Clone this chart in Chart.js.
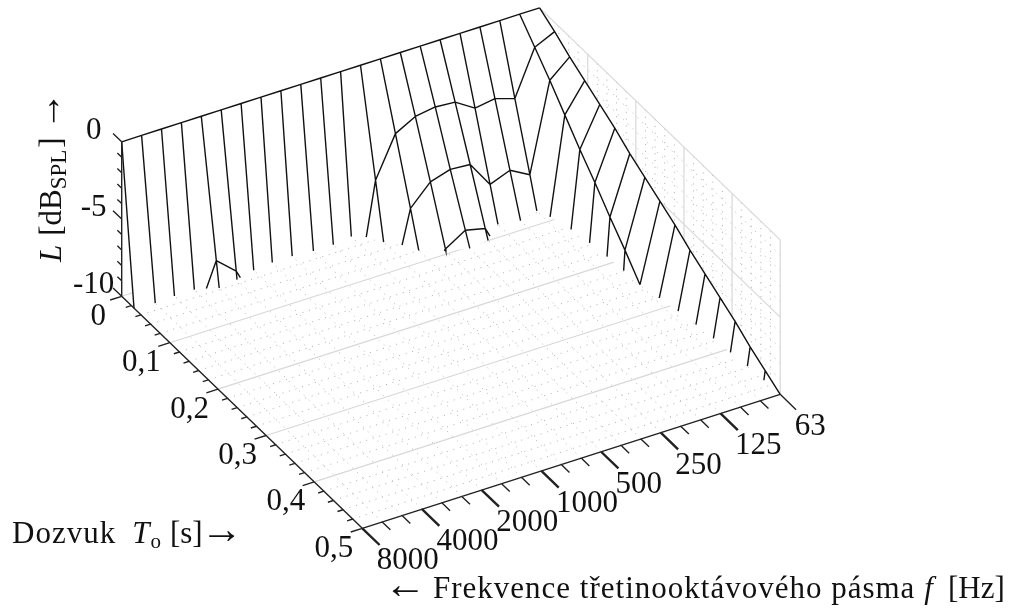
<!DOCTYPE html>
<html>
<head>
<meta charset="utf-8">
<script src="https://cdn.jsdelivr.net/npm/chart.js@4/dist/chart.umd.min.js"></script>
<style>
  body { margin: 0; background: #fff; }
</style>
</head>
<body>
<canvas id="graf" width="1015" height="608"></canvas>
<script>
// tretinooktavova pasma, zleva doprava podle osy
const pasma = [8000, 6300, 5000, 4000, 3150, 2500, 2000, 1600, 1250, 1000, 800, 630, 500, 400, 315, 250, 200, 160, 125, 100, 80, 63];
const dozvuk = [0, 0.03125, 0.0625, 0.09375, 0.125, 0.15625, 0.1875, 0.21875, 0.25, 0.28125, 0.3125, 0.34375, 0.375, 0.40625, 0.4375, 0.46875, 0.5];

// odectene hladiny v dB, kazdy radek konci prvni hodnotou pod -10
const L8000 = [0, -12.2];
const L6300 = [0, -11.0];
const L5000 = [0, -11.6];
const L4000 = [0, -11.6];
const L3150 = [0, -8.4, -16.8];
const L2500 = [0, -9.5, -19];
const L2000 = [0, -11.9];
const L1600 = [0, -13.3];
const L1250 = [0, -13.3];
const L1000 = [0, -11.9];
const L800 = [0, -11.9];
const L630 = [0, -14];
const L500 = [0, -6.5, -13];
const L400 = [0, -3.9, -7.8, -11.8];
const L315 = [0, -3.2, -6.5, -9.9, -13.2];
const L250 = [0, -3.0, -6.1, -9.1, -12.1];
const L200 = [0, -3.1, -6.2, -9.4, -12.5];
const L160 = [0, -3.9, -7.9, -11.9];
const L125 = [0, -3.7, -7.4, -11.1];
const L100 = [0, -4.1, -8.1, -12.2, -16.3, -20.4, -24.5, -28.6, -32.6];
const L80 = [0, -1.2, -2.4, -3.7, -5, -6.2, -7.5, -8.7, -10, -11.2, -12.5, -13.7, -15, -16.2, -17.5, -18.7, -20];
const L63 = [0, -0.6, -1.3, -1.9, -2.5, -3.1, -3.8, -4.4, -5, -5.6, -6.3, -6.9, -7.5, -8.1, -8.8, -9.4, -10];
const hladiny = [L8000, L6300, L5000, L4000, L3150, L2500, L2000, L1600, L1250, L1000, L800, L630, L500, L400, L315, L250, L200, L160, L125, L100, L80, L63];

const popiskyF = ['8000', '4000', '2000', '1000', '500', '250', '125', '63'];
const popiskyT = ['0', '0,1', '0,2', '0,3', '0,4', '0,5'];
const popiskyL = ['0', '-5', '-10'];

const DNO = -10;
const posledni = pasma.length - 1;

// pohled na 3D osy: i = poradi pasma, t = dozvuk, z = hladina
function pohled(i, t, z) {
  return {
    x: 121.7 + 19.9 * i + 481.2 * t,
    y: 141.8 - 6.38 * i + 464 * t - 15.45 * z
  };
}

function uzel(i, k) {
  return { i: i, t: dozvuk[k], z: hladiny[i][k] };
}

// prusecik s rovinou dna
function naDne(a, b) {
  const s = (DNO - a.z) / (b.z - a.z);
  return { i: a.i + (b.i - a.i) * s, t: a.t + (b.t - a.t) * s, z: DNO };
}

function useky(cary) {
  const body = [];
  for (const cara of cary) {
    for (const b of cara) body.push(b);
    body.push({ x: NaN, y: NaN });
  }
  return body;
}

function cara3d(a, b) {
  return [pohled(a[0], a[1], a[2]), pohled(b[0], b[1], b[2])];
}

// sit plochy
const sit = [];
hladiny.forEach(function (rada, i) {
  const cara = [];
  for (let k = 0; k < rada.length; k++) {
    const u = uzel(i, k);
    if (u.z >= DNO) {
      cara.push(pohled(u.i, u.t, u.z));
    } else {
      const c = naDne(uzel(i, k - 1), u);
      cara.push(pohled(c.i, c.t, c.z));
      break;
    }
  }
  sit.push(cara);
});
for (let k = 0; k < dozvuk.length; k++) {
  for (let i = 0; i < posledni; i++) {
    if (hladiny[i][k] === undefined || hladiny[i + 1][k] === undefined) continue;
    const a = uzel(i, k);
    const b = uzel(i + 1, k);
    if (a.z < DNO && b.z < DNO) continue;
    const ca = a.z < DNO ? naDne(b, a) : a;
    const cb = b.z < DNO ? naDne(a, b) : b;
    sit.push([pohled(ca.i, ca.t, ca.z), pohled(cb.i, cb.t, cb.z)]);
  }
}

function konecPasma(i) {
  const rada = hladiny[i];
  for (let k = 1; k < rada.length; k++) {
    if (rada[k] < DNO) return naDne(uzel(i, k - 1), uzel(i, k));
  }
  return uzel(i, rada.length - 1);
}

// bila maska: plocha zakryva mrizku dna a steny
const maska = [];
for (let i = 0; i <= posledni; i++) maska.push(pohled(i, 0, 0));
for (let k = 1; k < dozvuk.length; k++) maska.push(pohled(posledni, dozvuk[k], hladiny[posledni][k]));
for (let i = posledni; i > 0; i--) {
  const prechody = [];
  for (let k = 0; k < dozvuk.length; k++) {
    if (hladiny[i][k] === undefined || hladiny[i - 1][k] === undefined) continue;
    const a = uzel(i, k);
    const b = uzel(i - 1, k);
    if ((a.z < DNO) !== (b.z < DNO)) {
      const c = a.z < DNO ? naDne(b, a) : naDne(a, b);
      prechody.push(c);
    }
  }
  prechody.sort(function (p, q) { return q.t - p.t; });
  if (konecPasma(i).t < konecPasma(i - 1).t) prechody.reverse();
  for (const c of prechody) maska.push(pohled(c.i, c.t, c.z));
  const kon = konecPasma(i - 1);
  maska.push(pohled(kon.i, kon.t, kon.z));
}
maska.push(pohled(0, 0, 0));
// vypln orezava podle x prvniho a posledniho bodu, proto jeste jednou pravy roh
maska.push(pohled(posledni, 0.5, DNO));

// mrizka
const mrizkaHlavni = [];
const mrizkaTeckovana = [];
for (let j = 0; j <= 25; j++) {
  const t = j * 0.02;
  if (j % 5 === 0) {
    if (j < 25) mrizkaHlavni.push(cara3d([0, t, DNO], [posledni, t, DNO]));
    if (j > 0) mrizkaHlavni.push(cara3d([posledni, t, 0], [posledni, t, DNO]));
  } else {
    mrizkaTeckovana.push(cara3d([0, t, DNO], [posledni, t, DNO]));
    mrizkaTeckovana.push(cara3d([posledni, t, 0], [posledni, t, DNO]));
  }
}
for (let i = 0; i <= posledni; i++) mrizkaTeckovana.push(cara3d([i, 0, DNO], [i, 0.5, DNO]));
for (let z = 0; z >= DNO; z--) {
  if (z === 0 || z === -5) mrizkaHlavni.push(cara3d([posledni, 0, z], [posledni, 0.5, z]));
  else if (z !== DNO) mrizkaTeckovana.push(cara3d([posledni, 0, z], [posledni, 0.5, z]));
}

// osy a znacky
const osy = [
  cara3d([0, 0, 0], [0, 0, DNO]),
  cara3d([0, 0, DNO], [0, 0.5, DNO]),
  cara3d([0, 0.5, DNO], [posledni, 0.5, DNO]),
  cara3d([posledni, 0.5, DNO], [posledni, 0.533, DNO])
];
for (let j = 0; j <= 25; j++) {
  const t = j * 0.02;
  osy.push(cara3d([j % 5 === 0 ? -0.58 : -0.28, t, DNO], [0, t, DNO]));
}
for (let z = 0; z >= DNO; z--) {
  osy.push(cara3d([0, z % 5 === 0 ? -0.018 : -0.009, z], [0, 0, z]));
}
const znackyF = [];
pasma.forEach(function (f, i) {
  if (i === posledni) return;
  if (popiskyF.indexOf(String(f)) >= 0) znackyF.push(cara3d([i, 0.5, DNO], [i, 0.536, DNO]));
  else osy.push(cara3d([i, 0.5, DNO], [i, 0.517, DNO]));
});

function text(ctx, x, y, kusy) {
  let px = x;
  for (const kus of kusy) {
    ctx.font = (kus.styl || '') + ' ' + (kus.vel || 31) + 'px "Liberation Serif"';
    ctx.letterSpacing = (kus.ls || 0) + 'px';
    ctx.fillText(kus.t, px, y + (kus.dy || 0));
    px += ctx.measureText(kus.t).width + (kus.mezera || 0);
  }
  ctx.letterSpacing = '0px';
}

const popisky = {
  id: 'popisky',
  afterDraw(chart) {
    const ctx = chart.ctx;
    const sx = chart.scales.x;
    const sy = chart.scales.y;
    const misto = function (i, t, z) {
      const p = pohled(i, t, z);
      return { x: sx.getPixelForValue(p.x), y: sy.getPixelForValue(p.y) };
    };
    ctx.save();
    ctx.fillStyle = '#111';
    ctx.textBaseline = 'alphabetic';
    ctx.font = '31px "Liberation Serif"';

    ctx.textAlign = 'left';
    for (const s of popiskyF) {
      const p = misto(pasma.indexOf(Number(s)), 0.5, DNO);
      ctx.fillText(s, p.x + 14.5, p.y + 41);
    }
    ctx.textAlign = 'right';
    for (const s of popiskyT) {
      const p = misto(0, Number(s.replace(',', '.')), DNO);
      ctx.fillText(s, p.x - (s === '0' ? 15.7 : 9), p.y + 28.5);
    }
    ctx.textAlign = 'center';
    for (const s of popiskyL) {
      const p = misto(0, 0, Number(s));
      ctx.fillText(s, p.x - 28, p.y - 3.2);
    }

    ctx.textAlign = 'left';
    text(ctx, 12, 543, [
      { t: 'Dozvuk', ls: 1, mezera: 16 },
      { t: 'T', styl: 'italic', mezera: 1 },
      { t: 'o', vel: 21, dy: 5, mezera: 9 },
      { t: '[s]', mezera: -2 },
      { t: '→', vel: 42 }
    ]);
    text(ctx, 384, 598, [
      { t: '←', vel: 42, mezera: 7 },
      { t: 'Frekvence třetinooktávového pásma', ls: 1, mezera: 9 },
      { t: 'f', styl: 'italic', mezera: 15 },
      { t: '[Hz]' }
    ]);

    ctx.translate(61, 262);
    ctx.rotate(-Math.PI / 2);
    text(ctx, 0, 0, [
      { t: 'L', styl: 'italic', mezera: 9 },
      { t: '[dB' },
      { t: 'SPL', vel: 23, dy: 5, mezera: 2 },
      { t: ']', mezera: 7 },
      { t: '→', vel: 38, dy: -1 }
    ]);
    ctx.restore();
  }
};

new Chart(document.getElementById('graf'), {
  type: 'scatter',
  data: {
    datasets: [
      { label: 'osy', data: useky(osy), showLine: true, borderColor: '#222', borderWidth: 1.4, pointRadius: 0 },
      { label: 'hlavni znacky', data: useky(znackyF), showLine: true, borderColor: '#222', borderWidth: 2.4, pointRadius: 0 },
      { label: 'L', data: useky(sit), showLine: true, borderColor: '#111', borderWidth: 1.4, pointRadius: 0 },
      { label: 'maska', data: maska, showLine: true, borderWidth: 0, borderColor: '#fff', backgroundColor: '#fff', fill: 'shape', pointRadius: 0 },
      { label: 'mrizka', data: useky(mrizkaHlavni), showLine: true, borderColor: '#d8d8d8', borderWidth: 1.2, pointRadius: 0 },
      { label: 'tecky', data: useky(mrizkaTeckovana), showLine: true, borderColor: '#b4b4b4', borderWidth: 1, borderDash: [1.1, 5.7], pointRadius: 0 }
    ]
  },
  options: {
    responsive: false,
    animation: false,
    layout: { padding: 0 },
    plugins: { legend: { display: false }, tooltip: { enabled: false } },
    scales: {
      x: { type: 'linear', min: 0, max: 1015, display: false },
      y: { type: 'linear', min: 0, max: 608, reverse: true, display: false }
    }
  },
  plugins: [popisky]
});
</script>
</body>
</html>
